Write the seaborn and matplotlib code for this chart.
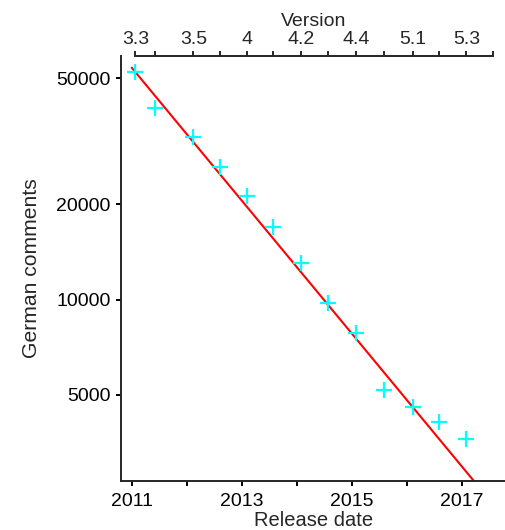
import matplotlib
matplotlib.use("Agg")
import matplotlib.pyplot as plt
import numpy as np
import pandas as pd
import seaborn as sns

# release dates of each version (top axis) and German comment counts per release
versions = ["3.3", "3.4", "3.5", "3.6", "4.0", "4.1", "4.2", "4.3", "4.4",
            "5.0", "5.1", "5.2", "5.3", "5.4"]
version_labels = ["3.3", "", "3.5", "", "4", "", "4.2", "", "4.4",
                  "", "5.1", "", "5.3", ""]
release_dates = ["2011-01-25", "2011-06-03", "2012-02-14", "2012-08-08",
                 "2013-02-07", "2013-07-25", "2014-01-30", "2014-07-30",
                 "2015-01-29", "2015-08-05", "2016-02-10", "2016-08-03",
                 "2017-02-01", "2017-07-28"]
german_comments = [52120, 40310, 32650, 26140, 21220, 16980, 13020, 9734,
                   7862, 5185, 4594, 4103, 3626]

# exponential trend: value at start of 2011, log10 decline per year
trend_2011 = 53900
trend_log10_per_year = -0.2096
trend_years = [2011, 2018]

year_ticks = [2011, 2012, 2013, 2014, 2015, 2016, 2017]
year_labels = ["2011", "", "2013", "", "2015", "", "2017"]
y_ticks = [5000, 10000, 20000, 50000]


def decimal_year(s):
    d = pd.to_datetime(s)
    days = 366 if d.is_leap_year else 365
    return d.year + (d.dayofyear - 1) / days


def trend(x):
    return trend_2011 * 10 ** (trend_log10_per_year * (np.asarray(x) - 2011))


def main():
    sns.set_theme(style="ticks")
    plt.rcParams["font.family"] = ["Liberation Sans", "DejaVu Sans"]
    plt.rcParams["font.size"] = 14
    plt.rcParams["axes.linewidth"] = 1.4

    release_x = [decimal_year(s) for s in release_dates]
    df = pd.DataFrame({"date": release_x[:len(german_comments)],
                       "comments": german_comments})

    fig = plt.figure(figsize=(5.06, 5.30), dpi=100)
    ax = fig.add_axes([121 / 506, 49 / 530, 385 / 506, 425 / 530])

    sns.scatterplot(data=df, x="date", y="comments", marker="+", color="cyan",
                    s=120, linewidth=1.6, ax=ax, zorder=3)

    # trend line, geometric in between so it stays straight on the log axis
    tx = np.linspace(trend_years[0], trend_years[1], 50)
    ax.plot(tx, trend(tx), color="red", lw=1.5, zorder=2)

    ax.set_yscale("log")
    ax.set_xlim(2010.805, 2017.805)
    ax.set_ylim(2677, 58670)
    ax.set_yticks(y_ticks)
    ax.set_yticklabels([str(v) for v in y_ticks])
    ax.yaxis.set_minor_locator(matplotlib.ticker.NullLocator())
    ax.set_xticks(year_ticks)
    ax.set_xticklabels(year_labels)
    ax.set_xlabel("Release date", fontsize=14.5, labelpad=0.5)
    ax.set_ylabel("German comments", fontsize=15.2, labelpad=11)
    ax.tick_params(axis="both", length=3.6, width=1.4, labelsize=14,
                   color="black", labelcolor="black")
    ax.tick_params(axis="x", pad=5)
    ax.tick_params(axis="y", pad=4)

    for s in ["top", "right"]:
        ax.spines[s].set_visible(False)

    ax2 = ax.twiny()
    ax2.set_xlim(ax.get_xlim())
    ax2.set_xticks(release_x)
    ax2.set_xticklabels(version_labels)
    ax2.set_xlabel("Version", fontsize=14, labelpad=3)
    ax2.tick_params(axis="x", length=3.6, width=1.4, pad=2.5, labelsize=14)
    for s in ["left", "right", "bottom"]:
        ax2.spines[s].set_visible(False)
    ax2.spines["top"].set_bounds(release_x[0], release_x[-1])
    ax2.grid(False)

    fig.savefig("out.png", dpi=100)


if __name__ == "__main__":
    main()
